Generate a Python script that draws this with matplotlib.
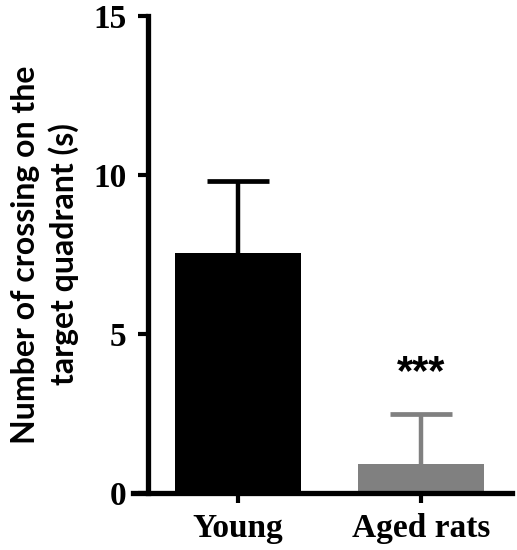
import matplotlib
matplotlib.use("Agg")
import matplotlib.pyplot as plt

categories = ["Young", "Aged rats"]
means = [7.55, 0.92]
errors = [2.25, 1.57]
colors = ["#000000", "#808080"]
sig_labels = ["", "***"]
sig_y = [None, 3.78]
yticks = [0, 5, 10, 15]
ylabel = "Number of crossing on the\ntarget quadrant (s)"

fig = plt.figure(figsize=(5.17, 5.5), dpi=100)
ax = fig.add_axes([133/517, 57/550, (512-133)/517, (493-16)/550])

x = list(range(len(categories)))
ax.bar(x, means, width=0.69, color=colors, edgecolor="none", zorder=2)
for xi, m, e, c in zip(x, means, errors, colors):
    _, caps, _ = ax.errorbar([xi], [m], yerr=[[0], [e]], fmt="none", ecolor=c,
                             elinewidth=3.2, capsize=22.5, capthick=3.4, zorder=1)
    caps[0].set_visible(False)
for xi, s, sy in zip(x, sig_labels, sig_y):
    if s:
        ax.text(xi, sy, s, ha="center", va="center", fontsize=30,
                fontweight="bold", family="Liberation Sans")

ax.set_xlim(-0.574, 1.497)
ax.set_ylim(0, 15)
ax.spines["left"].set_position(("data", -0.492))
ax.spines["left"].set_bounds(0, 15)
for s in ["top", "right"]:
    ax.spines[s].set_visible(False)
for s in ["left", "bottom"]:
    ax.spines[s].set_linewidth(3.8)
ax.set_yticks(yticks)
ax.set_xticks(x)
ax.set_xticklabels(categories)
ax.tick_params(axis="both", width=3, length=7.5, direction="out")
ax.tick_params(axis="y", pad=8)
ax.tick_params(axis="x", pad=7)
for lab in ax.get_xticklabels() + ax.get_yticklabels():
    lab.set_fontfamily("Liberation Serif")
    lab.set_fontweight("bold")
    lab.set_fontsize(24)
ax.set_ylabel(ylabel, fontsize=23, fontweight="bold", family="Lato",
              linespacing=1.32, labelpad=10)

fig.savefig("out.png", dpi=100)
